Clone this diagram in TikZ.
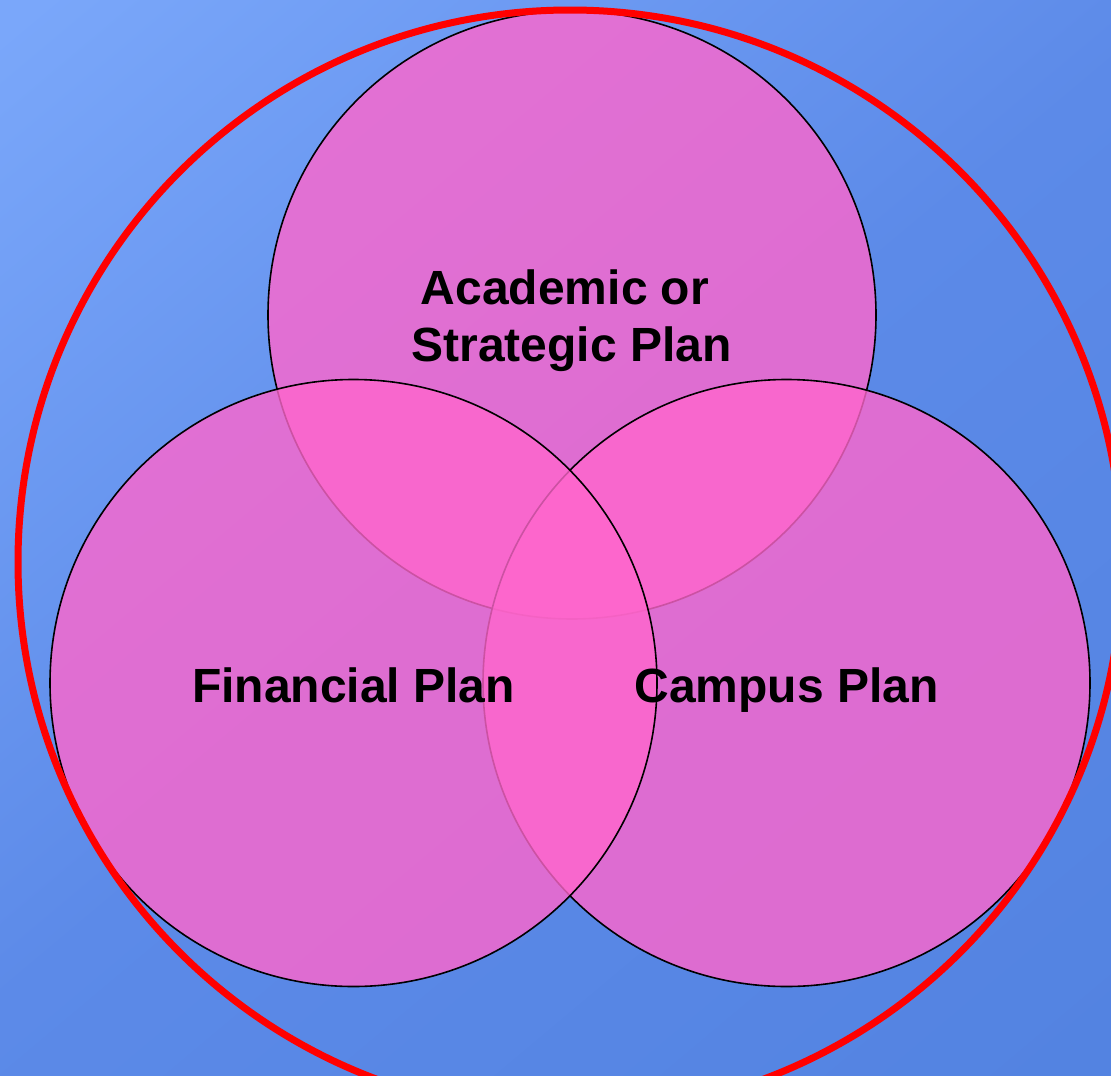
\documentclass[tikz,border=0pt]{standalone}
\usepackage{fontspec}
\setmainfont{Liberation Sans}
\definecolor{bgtop}{HTML}{7AA7FA}
\definecolor{bgmid}{HTML}{5C8AE8}
\definecolor{bgbot}{HTML}{5383E1}
\definecolor{plan}{HTML}{FF66CC}
\definecolor{ringred}{HTML}{FF0000}
\tikzset{
  plancircle/.style={circle, draw=black, line width=1.6pt, fill=plan, fill opacity=0.8, draw opacity=1, text opacity=1, inner sep=0pt},
  plantext/.style={font=\fontsize{48}{57}\selectfont\bfseries, text=black, inner sep=0pt},
  ring/.style={circle, draw=ringred, line width=7pt, inner sep=0pt}
}
\begin{document}
\begin{tikzpicture}[x=1pt,y=-1pt]
\useasboundingbox (0,0) rectangle (1111,1076);
\begin{scope}
\clip (0,0) rectangle (1111,1076);
\shade[top color=bgtop, bottom color=bgbot, middle color=bgmid, shading angle=40] (-200,-200) rectangle (1311,1276);
% three plan circles: top in back, then right, then left in front
\node[plancircle, minimum size=608pt] (academic) at (572,315) {};
\node[plancircle, minimum size=607pt] (campus) at (786.5,683) {};
\node[plancircle, minimum size=607pt] (financial) at (353.5,683) {};
% enclosing red ring
\node[ring, minimum size=1104pt] (ring) at (570,562) {};
\end{scope}
\node[plantext, align=center] (academictext) at (571.5,321) {Academic or\kern 13pt\\Strategic Plan};
\node[plantext, anchor=base] (financialtext) at (353.5,702) {Financial Plan};
\node[plantext, anchor=base] (campustext) at (786.5,702) {Campus Plan};
\end{tikzpicture}
\end{document}
